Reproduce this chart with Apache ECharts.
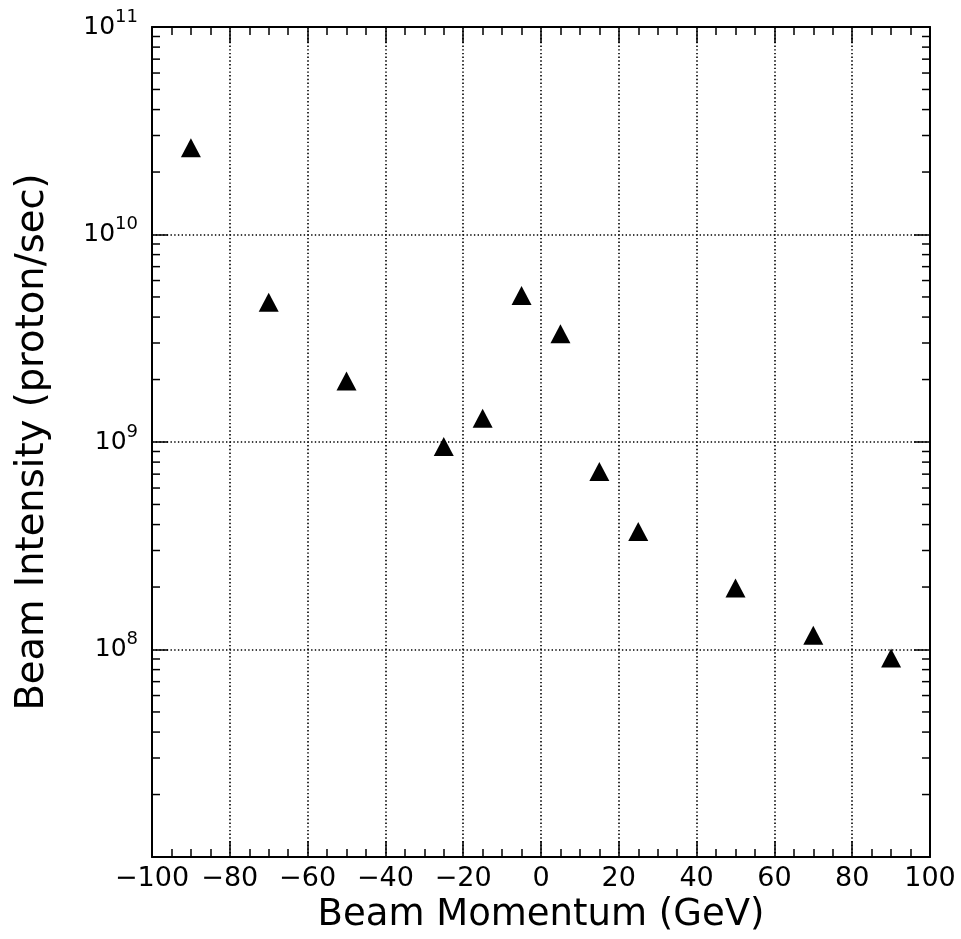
<!DOCTYPE html>
<html><head><meta charset="utf-8">
<script src="https://cdn.jsdelivr.net/npm/echarts@6/dist/echarts.min.js"></script>
<style>html,body{margin:0;padding:0;background:#fff}#chart{width:961px;height:939px}</style>
</head><body><div id="chart"></div>
<script>
// ---- data ----
const momentum = [-90, -70, -50, -25, -15, -5, 5, 15, 25, 50, 70, 90];
const intensity = [2.62e10, 4.72e9, 1.97e9, 9.5e8, 1.30e9, 5.08e9, 3.32e9, 7.2e8, 3.7e8, 1.98e8, 1.17e8, 9.1e7];
const xMin = -100, xMax = 100, xStep = 20;
const yMin = 1e7, yMax = 1e11;
const yDecades = [1e7, 1e8, 1e9, 1e10];
const minorMultipliers = [2, 3, 4, 5, 6, 7, 8, 9];
const xTitle = 'Beam Momentum (GeV)';
const yTitle = 'Beam Intensity (proton/sec)';

const FONT = 'DejaVu Sans';
const points = momentum.map((m, i) => [m, intensity[i]]);
const minorY = [];
yDecades.forEach(d => minorMultipliers.forEach(k => minorY.push([xMin, d * k])));

const dotted = { color: '#000', width: 1.6, type: [1.4, 2.3] };
const axisLine = { show: true, onZero: false, lineStyle: { color: '#000', width: 2 } };
const tickStyle = { color: '#000', width: 1.5 };

const chart = echarts.init(document.getElementById('chart'), null, { renderer: 'canvas' });
chart.setOption({
  backgroundColor: '#fff',
  animation: false,
  grid: { left: 152, top: 27, width: 778, height: 830, containLabel: false },
  xAxis: [{
    type: 'value', min: xMin, max: xMax, interval: xStep, position: 'bottom',
    axisLine: axisLine,
    axisTick: { show: true, inside: true, length: 16, lineStyle: tickStyle },
    minorTick: { show: true, splitNumber: 4, length: 8, lineStyle: tickStyle },
    splitLine: { show: true, lineStyle: dotted },
    axisLabel: { margin: 8, color: '#000', fontFamily: FONT, fontSize: 27,
      formatter: v => (v < 0 ? '\u2212' + Math.abs(v) : String(v)) },
    name: xTitle, nameLocation: 'middle', nameGap: 38,
    nameTextStyle: { color: '#000', fontFamily: FONT, fontSize: 37 }
  }, {
    type: 'value', min: xMin, max: xMax, interval: xStep, position: 'top',
    axisLine: axisLine,
    axisTick: { show: true, inside: true, length: 16, lineStyle: tickStyle },
    minorTick: { show: true, splitNumber: 4, length: 8, lineStyle: tickStyle },
    splitLine: { show: false }, axisLabel: { show: false }
  }],
  yAxis: [{
    type: 'log', logBase: 10, min: yMin, max: yMax, position: 'left',
    axisLine: axisLine,
    axisTick: { show: true, inside: true, length: 16, lineStyle: tickStyle },
    splitLine: { show: true, lineStyle: dotted },
    axisLabel: {
      margin: 14, color: '#000', fontFamily: FONT, fontSize: 25,
      formatter: v => {
        const e = Math.round(Math.log10(v));
        if (e <= 7) return '';
        return '{b|10}{s|' + e + '}';
      },
      rich: {
        b: { fontFamily: FONT, fontSize: 25, lineHeight: 26, color: '#000', verticalAlign: 'middle' },
        s: { fontFamily: FONT, fontSize: 18, lineHeight: 18, color: '#000', verticalAlign: 'middle', padding: [0, 0, 20, 0] }
      }
    },
    name: yTitle, nameLocation: 'middle', nameGap: 100,
    nameTextStyle: { color: '#000', fontFamily: FONT, fontSize: 38.5 }
  }, {
    type: 'log', logBase: 10, min: yMin, max: yMax, position: 'right',
    axisLine: axisLine,
    axisTick: { show: true, inside: true, length: 16, lineStyle: tickStyle },
    splitLine: { show: false }, axisLabel: { show: false }
  }],
  series: [{
    type: 'scatter', xAxisIndex: 0, yAxisIndex: 0,
    symbol: 'triangle', symbolSize: [20, 19],
    itemStyle: { color: '#000', opacity: 1 },
    data: points, z: 5
  }, {
    type: 'custom', xAxisIndex: 0, yAxisIndex: 0, silent: true, clip: false,
    data: minorY,
    renderItem: (params, api) => {
      const v = api.value(1);
      const pl = api.coord([xMin, v]);
      const pr = api.coord([xMax, v]);
      return { type: 'group', children: [
        { type: 'line', shape: { x1: pl[0], y1: pl[1], x2: pl[0] + 8, y2: pl[1] }, style: { stroke: '#000', lineWidth: 1.5 } },
        { type: 'line', shape: { x1: pr[0] - 8, y1: pr[1], x2: pr[0], y2: pr[1] }, style: { stroke: '#000', lineWidth: 1.5 } }
      ]};
    }
  }]
});
</script></body></html>
